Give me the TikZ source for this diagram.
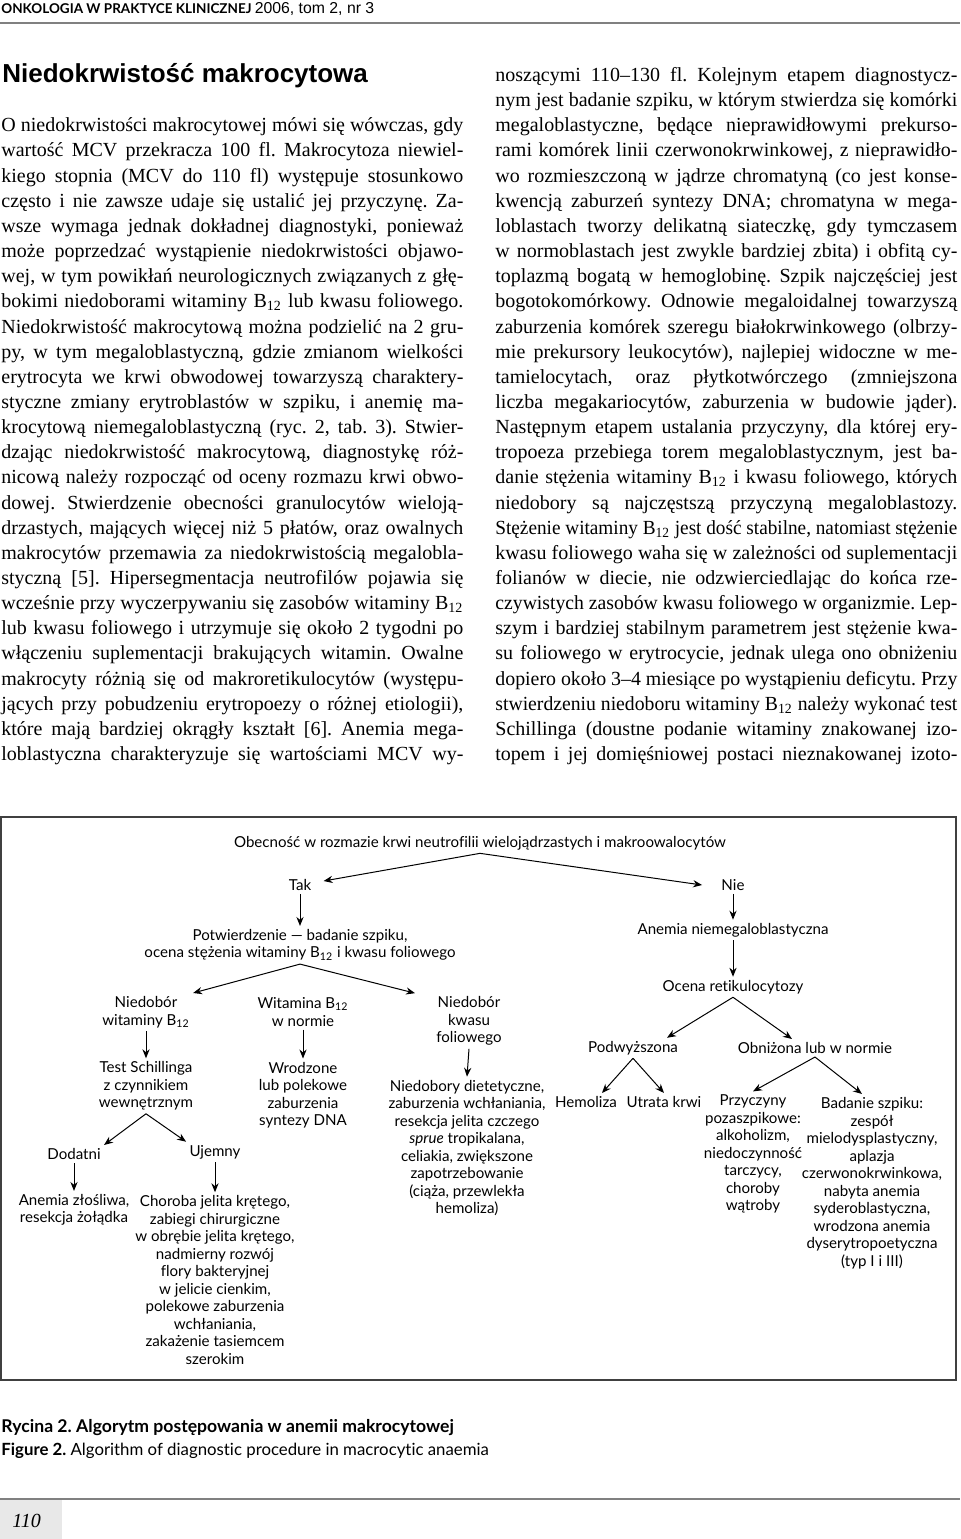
\documentclass[tikz,border=0pt]{standalone}
\usepackage{fontspec}
\setmainfont{Liberation Serif}
\newfontfamily\diagfont{Lato}[Ligatures=NoCommon]
\newfontfamily\headfont{Liberation Sans}
\usetikzlibrary{positioning,calc,arrows.meta}
\frenchspacing

\newlength\colw
\setlength\colw{231pt}
\newsavebox\linebox
\newcommand\jline[1]{\sbox\linebox{#1}%
  \ifdim\wd\linebox>\colw\resizebox{\colw}{\height}{\usebox\linebox}%
  \else\hbox to\colw{#1}\fi}
\newcommand\Bd{B\textsubscript{12}}

\tikzset{
  dg/.style={font=\diagfont\fontsize{7.55}{8.75}\selectfont, align=center, inner sep=1.5pt},
  flow/.style={-{Stealth[length=4.5pt,width=3.6pt]}, line width=0.5pt},
  body/.style={font=\fontsize{10}{12.58}\selectfont, inner sep=0pt, anchor=base west}
}

\begin{document}
\begin{tikzpicture}[x=0.5pt, y=-0.5pt]
\useasboundingbox (0,0) rectangle (960,1539);

% header
\node[anchor=base west, inner sep=0pt] (hdr) at (1,13)
  {\diagfont\bfseries\fontsize{6.75}{8}\selectfont ONKOLOGIA W PRAKTYCE KLINICZNEJ
   {\headfont\mdseries\fontsize{7.9}{8}\selectfont 2006, tom 2, nr 3}};
\draw[gray, line width=0.8pt] (0,23) -- (960,23);
\node[anchor=base west, inner sep=0pt] (title) at (2,82)
  {\headfont\bfseries\fontsize{13}{15}\selectfont Niedokrwistość makrocytowa};

% left column
\foreach \l [count=\i] in {%
{O niedokrwistości makrocytowej mówi się wówczas, gdy},%
{wartość MCV przekracza 100 fl. Makrocytoza niewiel-},%
{kiego stopnia (MCV do 110 fl) występuje stosunkowo},%
{często i nie zawsze udaje się ustalić jej przyczynę. Za-},%
{wsze wymaga jednak dokładnej diagnostyki, ponieważ},%
{może poprzedzać wystąpienie niedokrwistości objawo-},%
{wej, w tym powikłań neurologicznych związanych z głę-},%
{bokimi niedoborami witaminy \Bd{} lub kwasu foliowego.},%
{Niedokrwistość makrocytową można podzielić na 2 gru-},%
{py, w tym megaloblastyczną, gdzie zmianom wielkości},%
{erytrocyta we krwi obwodowej towarzyszą charaktery-},%
{styczne zmiany erytroblastów w szpiku, i anemię ma-},%
{krocytową niemegaloblastyczną (ryc. 2, tab. 3). Stwier-},%
{dzając niedokrwistość makrocytową, diagnostykę róż-},%
{nicową należy rozpocząć od oceny rozmazu krwi obwo-},%
{dowej. Stwierdzenie obecności granulocytów wieloją-},%
{drzastych, mających więcej niż 5 płatów, oraz owalnych},%
{makrocytów przemawia za niedokrwistością megalobla-},%
{styczną [5]. Hipersegmentacja neutrofilów pojawia się},%
{wcześnie przy wyczerpywaniu się zasobów witaminy \Bd},%
{lub kwasu foliowego i utrzymuje się około 2 tygodni po},%
{włączeniu suplementacji brakujących witamin. Owalne},%
{makrocyty różnią się od makroretikulocytów (występu-},%
{jących przy pobudzeniu erytropoezy o różnej etiologii),},%
{które mają bardziej okrągły kształt [6]. Anemia mega-},%
{loblastyczna charakteryzuje się wartościami MCV wy-}%
}{
  \node[body] (lcol\i) at (1,{81.5+25.15*(\i+1)}) {\jline{\l}};
}

% right column
\foreach \l [count=\i] in {%
{noszącymi 110–130 fl. Kolejnym etapem diagnostycz-},%
{nym jest badanie szpiku, w którym stwierdza się komórki},%
{megaloblastyczne, będące nieprawidłowymi prekurso-},%
{rami komórek linii czerwonokrwinkowej, z nieprawidło-},%
{wo rozmieszczoną w jądrze chromatyną (co jest konse-},%
{kwencją zaburzeń syntezy DNA; chromatyna w mega-},%
{loblastach tworzy delikatną siateczkę, gdy tymczasem},%
{w normoblastach jest zwykle bardziej zbita) i obfitą cy-},%
{toplazmą bogatą w hemoglobinę. Szpik najczęściej jest},%
{bogotokomórkowy. Odnowie megaloidalnej towarzyszą},%
{zaburzenia komórek szeregu białokrwinkowego (olbrzy-},%
{mie prekursory leukocytów), najlepiej widoczne w me-},%
{tamielocytach, oraz płytkotwórczego (zmniejszona},%
{liczba megakariocytów, zaburzenia w budowie jąder).},%
{Następnym etapem ustalania przyczyny, dla której ery-},%
{tropoeza przebiega torem megaloblastycznym, jest ba-},%
{danie stężenia witaminy \Bd{} i kwasu foliowego, których},%
{niedobory są najczęstszą przyczyną megaloblastozy.},%
{Stężenie witaminy \Bd{} jest dość stabilne, natomiast stężenie},%
{kwasu foliowego waha się w zależności od suplementacji},%
{folianów w diecie, nie odzwierciedlając do końca rze-},%
{czywistych zasobów kwasu foliowego w organizmie. Lep-},%
{szym i bardziej stabilnym parametrem jest stężenie kwa-},%
{su foliowego w erytrocycie, jednak ulega ono obniżeniu},%
{dopiero około 3–4 miesiące po wystąpieniu deficytu. Przy},%
{stwierdzeniu niedoboru witaminy \Bd{} należy wykonać test},%
{Schillinga (doustne podanie witaminy znakowanej izo-},%
{topem i jej domięśniowej postaci nieznakowanej izoto-}%
}{
  \node[body] (rcol\i) at (495,{81.5+25.15*(\i-1)}) {\jline{\l}};
}

% diagram
\draw[black!75, line width=0.9pt] (1,817) rectangle (956,1380);

\node[dg] (top) at (480,843) {Obecność w rozmazie krwi neutrofilii wielojądrzastych i makroowalocytów};
\node[dg] (tak) at (300,885) {Tak};
\node[dg] (nie) at (733,885) {Nie};
\node[dg] (potw) at (300,945) {Potwierdzenie — badanie szpiku,\\ocena stężenia witaminy \Bd{} i kwasu foliowego};
\node[dg] (anemn) at (733,930) {Anemia niemegaloblastyczna};
\node[dg] (ocena) at (733,987) {Ocena retikulocytozy};
\node[dg] (niedb) at (146,1012) {Niedobór\\witaminy \Bd};
\node[dg] (witn) at (303,1012) {Witamina \Bd\\w normie};
\node[dg] (niedk) at (469,1021) {Niedobór\\kwasu\\foliowego};
\node[dg] (podw) at (633,1048) {Podwyższona};
\node[dg] (obniz) at (815,1048) {Obniżona lub w normie};
\node[dg] (test) at (146,1086) {Test Schillinga\\z czynnikiem\\wewnętrznym};
\node[dg] (wrodz) at (303,1095) {Wrodzone\\lub polekowe\\zaburzenia\\syntezy DNA};
\node[dg] (dietet) at (467,1148) {Niedobory dietetyczne,\\zaburzenia wchłaniania,\\resekcja jelita czczego\\\textit{sprue} tropikalana,\\celiakia, zwiększone\\zapotrzebowanie\\(ciąża, przewlekła\\hemoliza)};
\node[dg] (hemol) at (586,1102) {Hemoliza};
\node[dg] (utrata) at (664,1102) {Utrata krwi};
\node[dg] (przycz) at (753,1154) {Przyczyny\\pozaszpikowe:\\alkoholizm,\\niedoczynność\\tarczycy,\\choroby\\wątroby};
\node[dg] (badanie) at (872,1183) {Badanie szpiku:\\zespół\\mielodysplastyczny,\\aplazja\\czerwonokrwinkowa,\\nabyta anemia\\syderoblastyczna,\\wrodzona anemia\\dyserytropoetyczna\\(typ I i III)};
\node[dg] (dodatni) at (74,1154) {Dodatni};
\node[dg] (ujemny) at (215,1152) {Ujemny};
\node[dg] (zlosl) at (74,1210) {Anemia złośliwa,\\resekcja żołądka};
\node[dg] (chor) at (215,1280) {Choroba jelita krętego,\\zabiegi chirurgiczne\\w obrębie jelita krętego,\\nadmierny rozwój\\flory bakteryjnej\\w jelicie cienkim,\\polekowe zaburzenia\\wchłaniania,\\zakażenie tasiemcem\\szerokim};

\path[flow]
  (top.south) edge ($(tak.east)+(9,-4)$)
              edge ($(nie.west)+(-16,0)$)
  (tak.south) edge (potw.north)
  (potw.south) edge (niedb.north east)
               edge ($(niedk.north)+(-54,0)$)
  (niedb.south) edge (test.north)
  (witn.south) edge (wrodz.north)
  (niedk.south) edge (dietet.north)
  (test.south) edge (dodatni.north east)
               edge (ujemny.north west)
  (dodatni.south) edge (zlosl.north)
  (ujemny.south) edge (chor.north)
  (nie.south) edge (anemn.north)
  (anemn.south) edge (ocena.north)
  (ocena.south) edge ($(podw.north)+(34,0)$)
                edge ($(obniz.north)+(-23,0)$)
  (podw.south) edge ($(hemol.north)+(16,0)$)
               edge (utrata.north)
  (obniz.south) edge (przycz.north)
                edge ($(badanie.north)+(-10,0)$);

% caption
\node[anchor=base west, inner sep=0pt] (ryc) at (1,1432)
  {\diagfont\bfseries\fontsize{8.8}{10}\selectfont Rycina 2. Algorytm postępowania w anemii makrocytowej};
\node[anchor=base west, inner sep=0pt] (fig) at (1,1455)
  {\diagfont\fontsize{8.4}{10}\selectfont\textbf{Figure 2.} Algorithm of diagnostic procedure in macrocytic anaemia};

% footer
\draw[gray, line width=0.8pt] (0,1499) -- (960,1499);
\fill[black!9] (0,1500) rectangle (62,1539);
\node[anchor=base west, inner sep=0pt] (pnum) at (12,1527) {\itshape\fontsize{10}{12}\selectfont 110};
\end{tikzpicture}
\end{document}
